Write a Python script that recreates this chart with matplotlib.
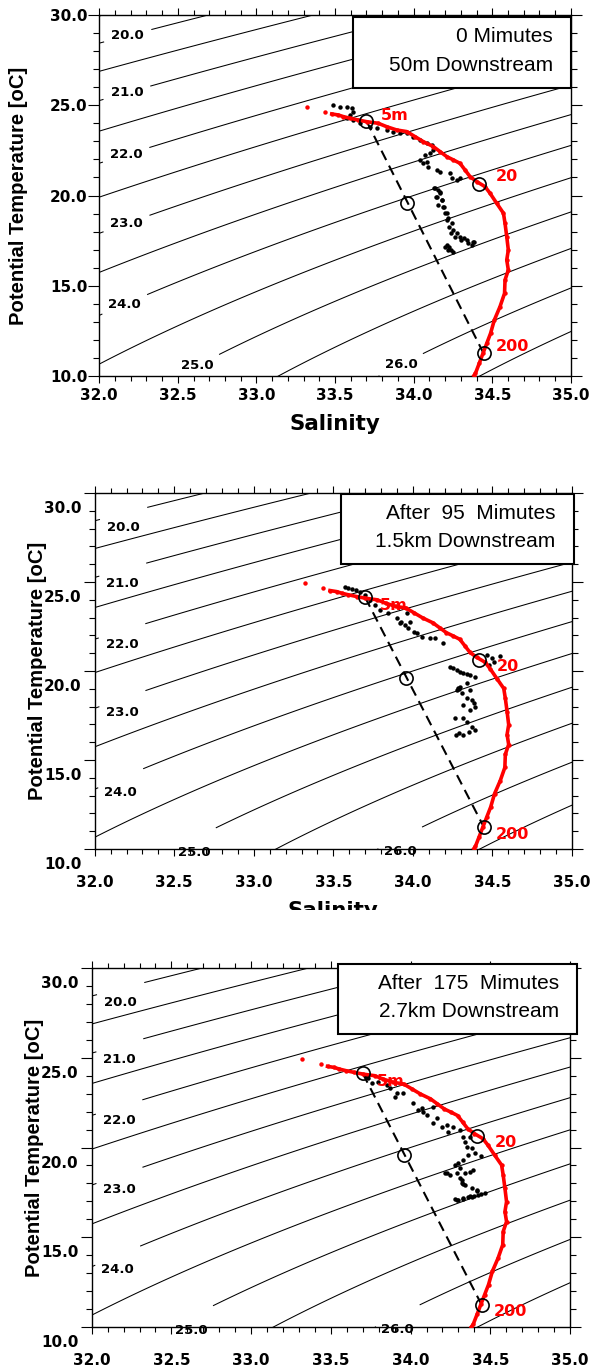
import numpy as np
import matplotlib
matplotlib.use("Agg")
import matplotlib.pyplot as plt
import matplotlib.transforms as mtransforms
from matplotlib.patches import Rectangle
from matplotlib.ticker import MultipleLocator, FormatStrFormatter

# ---------------- data ----------------
# reference (red) profile, shared by the three panels
red_S = [33.320, 33.436, 33.479, 33.521, 33.553, 33.595, 33.648, 33.701, 33.775, 33.829,
         33.892, 33.956, 34.009, 34.062, 34.125, 34.168, 34.211, 34.253, 34.295, 34.327,
         34.359, 34.401, 34.454, 34.486, 34.528, 34.571, 34.581, 34.592, 34.602, 34.592,
         34.602, 34.581, 34.578, 34.549, 34.513, 34.489, 34.465, 34.441, 34.417, 34.393, 34.381]
red_T = [24.92, 24.64, 24.52, 24.46, 24.37, 24.28, 24.18, 24.09, 24.00, 23.81,
         23.63, 23.54, 23.26, 22.98, 22.71, 22.43, 22.15, 21.97, 21.78, 21.41,
         21.04, 20.77, 20.49, 20.12, 19.57, 19.02, 18.46, 17.72, 16.98, 16.43,
         15.87, 15.32, 14.58, 13.84, 13.10, 12.36, 11.81, 11.26, 10.70, 10.15, 10.00]

# black (observed) points, one set per panel
black1_S = [33.489, 33.532, 33.574, 33.606, 33.617, 33.595, 33.574, 33.617, 33.659, 33.723,
            33.765, 33.829, 33.871, 33.914, 33.956, 33.998, 34.041, 34.083, 34.115, 34.125,
            34.104, 34.072, 34.041, 34.062, 34.094, 34.083, 34.147, 34.168, 34.232, 34.274,
            34.243, 34.295, 34.136, 34.157, 34.168, 34.147, 34.179, 34.189, 34.157, 34.211,
            34.221, 34.243, 34.253, 34.274, 34.295, 34.317, 34.338, 34.380, 34.370, 34.211,
            34.221, 34.253, 34.200, 34.130, 34.166, 34.142, 34.178, 34.190, 34.202, 34.214,
            34.227, 34.239, 34.263, 34.299, 34.347, 34.383, 34.227, 34.239]
black1_T = [25.01, 24.92, 24.89, 24.83, 24.64, 24.46, 24.28, 24.18, 24.00, 23.81,
            23.72, 23.63, 23.54, 23.45, 23.48, 23.26, 23.07, 22.89, 22.80, 22.52,
            22.33, 22.24, 21.97, 21.78, 21.59, 21.87, 21.41, 21.32, 21.23, 20.86,
            20.95, 20.95, 20.40, 20.30, 20.12, 19.94, 19.76, 19.39, 19.48, 19.02,
            18.74, 18.46, 18.09, 17.91, 17.72, 17.63, 17.53, 17.44, 17.26, 17.26,
            16.98, 16.89, 17.17, 20.40, 20.21, 19.94, 19.75, 19.38, 19.01, 18.64,
            18.27, 17.90, 17.72, 17.53, 17.35, 17.44, 17.17, 16.98]

black2_S = [33.571, 33.595, 33.619, 33.643, 33.667, 33.702, 33.730, 33.761, 33.793, 33.845,
            33.898, 33.926, 33.919, 33.951, 33.972, 33.961, 33.982, 34.007, 34.024, 34.056,
            34.108, 34.139, 34.192, 34.464, 34.500, 34.548, 34.512, 34.476, 34.234, 34.255,
            34.276, 34.297, 34.318, 34.340, 34.360, 34.392, 34.339, 34.297, 34.286, 34.276,
            34.290, 34.308, 34.339, 34.371, 34.360, 34.381, 34.318, 34.360, 34.392, 34.262,
            34.318, 34.339, 34.371, 34.393, 34.350, 34.318, 34.287, 34.274]
black2_T = [24.70, 24.65, 24.59, 24.53, 24.46, 24.27, 23.99, 23.71, 23.43, 23.24,
            22.96, 22.77, 22.68, 22.58, 22.40, 23.24, 22.77, 22.21, 22.12, 21.93,
            21.84, 21.84, 21.56, 20.90, 20.71, 20.84, 20.52, 20.34, 20.25, 20.15,
            20.06, 19.97, 19.87, 19.83, 19.78, 19.68, 19.31, 19.12, 19.03, 18.93,
            19.00, 18.75, 18.47, 18.37, 18.93, 18.19, 18.09, 17.81, 18.00, 17.34,
            17.34, 17.15, 16.87, 16.69, 16.59, 16.40, 16.50, 16.40]

black3_S = [33.715, 33.725, 33.735, 33.756, 33.798, 33.851, 33.871, 33.913, 33.903, 33.955,
            34.018, 34.049, 34.081, 34.102, 34.071, 34.143, 34.164, 34.143, 34.196, 34.227,
            34.268, 34.237, 34.311, 34.331, 34.373, 34.342, 34.352, 34.383, 34.404, 34.363,
            34.331, 34.300, 34.279, 34.311, 34.342, 34.373, 34.290, 34.248, 34.227, 34.321,
            34.342, 34.383, 34.415, 34.290, 34.331, 34.383, 34.425, 34.466, 34.418, 34.276,
            34.371, 34.216, 34.394, 34.442, 34.300, 34.330, 34.360, 34.400, 34.440, 34.320,
            34.330, 34.310]
black3_T = [24.02, 23.95, 23.86, 23.58, 23.67, 23.48, 23.30, 23.02, 22.83, 23.02,
            22.46, 22.09, 21.99, 21.81, 22.18, 22.27, 21.62, 21.34, 21.16, 21.25,
            21.16, 20.88, 20.97, 20.60, 20.60, 20.32, 20.04, 19.95, 19.67, 19.58,
            19.30, 19.11, 19.02, 18.84, 18.56, 18.65, 18.56, 18.47, 18.56, 18.19,
            17.91, 17.73, 17.63, 17.08, 17.17, 17.27, 17.36, 17.47, 17.56, 17.13,
            17.28, 18.58, 18.77, 19.51, 17.10, 17.15, 17.22, 17.32, 17.42, 18.05,
            17.95, 18.30]

# open circles (5 m, mixed, 20 m, 200 m) and the dashed mixing line
circle_S = [33.700, 33.957, 34.418, 34.445]
circle_T = [24.13, 19.61, 20.64, 11.25]
mix_S = [33.700, 34.445]
mix_T = [24.13, 11.25]

depth_labels = ["5m", "20", "200"]
depth_label_S = [33.79, 34.525, 34.52]
depth_label_T = [24.45, 21.04, 11.62]

# isopycnals (sigma-theta)
iso_levels = [19.5, 20.0, 20.5, 21.0, 21.5, 22.0, 22.5, 23.0, 23.5, 24.0,
              24.5, 25.0, 25.5, 26.0, 26.5]
iso_label_levels = [20.0, 21.0, 22.0, 23.0, 24.0, 25.0, 26.0]
iso_label_S = [32.183, 32.183, 32.183, 32.183, 32.183, 32.614, 33.911]
iso_label_T = [28.80, 25.48, 21.93, 18.22, 13.56, 10.76, 10.79]

box_line1 = ["0 Mimutes", "After  95  Mimutes", "After  175  Mimutes"]
box_line2 = ["50m Downstream", "1.5km Downstream", "2.7km Downstream"]

black_sets = [(black1_S, black1_T), (black2_S, black2_T), (black3_S, black3_T)]

# ---------------- layout (figure pixels, top-left origin) ----------------
W, H = 594, 1366
panels = [
    dict(l=99.2, r=570.9, t=15, b=376, off=0, ylab_x=18.9, xlab_y=424,
         box=(353, 17.3, 571, 88.3), txt_r=553, txt_y=(36.7, 65.7), ypad=0.5),
    dict(l=94.7, r=572, t=493, b=849, off=14, ylab_x=37.9, xlab_y=911,
         box=(341, 494, 574, 564.3), txt_r=555, txt_y=(513.3, 541.7), ypad=1.5),
    dict(l=91.7, r=570, t=968, b=1327, off=14, ylab_x=34.1, xlab_y=None,
         box=(338, 964, 577, 1034.3), txt_r=558.7, txt_y=(983.3, 1011.7), ypad=1.5),
]

plt.rcParams['font.family'] = ['DejaVu Sans']
plt.rcParams['font.weight'] = 'bold'


def sigma0(S, T):
    rw = (999.842594 + 6.793952e-2 * T - 9.095290e-3 * T**2 + 1.001685e-4 * T**3
          - 1.120083e-6 * T**4 + 6.536332e-9 * T**5)
    A = 8.24493e-1 - 4.0899e-3 * T + 7.6438e-5 * T**2 - 8.2467e-7 * T**3 + 5.3875e-9 * T**4
    B = -5.72466e-3 + 1.0227e-4 * T - 1.6546e-6 * T**2
    C = 4.8314e-4
    return rw + A * S + B * S**1.5 + C * S**2 - 1000.0


SS, TT = np.meshgrid(np.linspace(31.9, 35.1, 300), np.linspace(9.5, 30.5, 300))
SIG = sigma0(SS, TT)
plain_levels = [v for v in iso_levels if v not in iso_label_levels]

fig = plt.figure(figsize=(W / 100, H / 100), dpi=100)

for k, p in enumerate(panels):
    rect = [p['l'] / W, 1 - p['b'] / H, (p['r'] - p['l']) / W, (p['b'] - p['t']) / H]
    ax = fig.add_axes(rect)
    ax.set_xlim(32, 35)
    ax.set_ylim(10, 30)
    off = mtransforms.ScaledTranslation(0, -p['off'] / 100.0, fig.dpi_scale_trans)

    ax.contour(SS, TT, SIG, levels=plain_levels, colors='k', linewidths=0.75, zorder=1)
    cs = ax.contour(SS, TT, SIG, levels=iso_label_levels, colors='k', linewidths=0.75, zorder=1)
    txts = ax.clabel(cs, manual=list(zip(iso_label_S, iso_label_T)),
                     inline=True, inline_spacing=8, fmt='%.1f', fontsize=9.5)
    for t in txts:
        t.set_rotation(0)
        t.set_fontweight('bold')
        t.set_color('black')
        t.set_clip_on(False)
        if p['off']:
            t.set_transform(ax.transData + off)

    ax.plot(mix_S, mix_T, color='k', lw=1.5, dashes=(5, 3), zorder=2)
    bS, bT = black_sets[k]
    ax.plot(bS, bT, 'o', ms=3.2, color='k', mew=0, zorder=3)
    ax.plot(red_S[2:], red_T[2:], '-', color='red', lw=2.6, zorder=3.5)
    ax.plot(red_S, red_T, 'o', ms=3.2, color='red', mew=0, zorder=3.5)
    ax.plot(circle_S, circle_T, 'o', ms=9.5, mfc='none', mec='k', mew=1.2, zorder=5)

    for lab, s, t in zip(depth_labels, depth_label_S, depth_label_T):
        ax.text(s, t, lab, color='red', fontsize=11.5, fontweight='bold', ha='left',
                va='center', transform=ax.transData + off, zorder=3.2)

    ax.xaxis.set_major_locator(MultipleLocator(0.5))
    ax.xaxis.set_minor_locator(MultipleLocator(0.1))
    ax.yaxis.set_major_locator(MultipleLocator(5))
    ax.yaxis.set_minor_locator(MultipleLocator(1))
    ax.xaxis.set_major_formatter(FormatStrFormatter('%.1f'))
    ax.yaxis.set_major_formatter(FormatStrFormatter('%.1f'))
    ax.tick_params(which='both', direction='out', top=True, right=True,
                   labeltop=False, labelright=False, width=0.8, labelsize=11)
    ax.tick_params(axis='y', which='major', length=8, pad=p['ypad'])
    ax.tick_params(axis='y', which='minor', length=4)
    ax.tick_params(axis='x', which='major', length=5, pad=3.6 + p['off'] * 0.72)
    ax.tick_params(axis='x', which='minor', length=3.5)
    for sp in ax.spines.values():
        sp.set_linewidth(1.0)

    if p['off']:
        for tk in ax.yaxis.get_major_ticks():
            tk.label1.set_transform(tk.label1.get_transform() + off)

    ax.set_ylabel("Potential Temperature [oC]", fontfamily='Liberation Sans',
                  fontweight='bold', fontsize=14.6, va='center')
    ax.yaxis.set_label_coords((p['ylab_x'] - p['l']) / (p['r'] - p['l']), 0.5)
    if p['xlab_y'] is not None:
        ax.set_xlabel("Salinity", fontsize=15.4, fontweight='bold', va='center')
        ax.xaxis.set_label_coords(0.5, (p['b'] - p['xlab_y']) / (p['b'] - p['t']))

    x0, y0, x1, y1 = p['box']
    fig.add_artist(Rectangle((x0 / W, 1 - y1 / H), (x1 - x0) / W, (y1 - y0) / H,
                             transform=fig.transFigure, fc='white', ec='black',
                             lw=1.5, zorder=5))
    for line, yy in zip((box_line1[k], box_line2[k]), p['txt_y']):
        fig.text(p['txt_r'] / W, 1 - yy / H, line, ha='right', va='center',
                 fontsize=15, fontfamily='Liberation Sans', fontweight='normal', zorder=6)

# the x-axis title of the middle panel is cut in the original
fig.add_artist(Rectangle((0, 1 - 950 / H), 1, 40 / H, transform=fig.transFigure,
                         fc='white', ec='none', zorder=4))

fig.savefig("out.png", dpi=100)
